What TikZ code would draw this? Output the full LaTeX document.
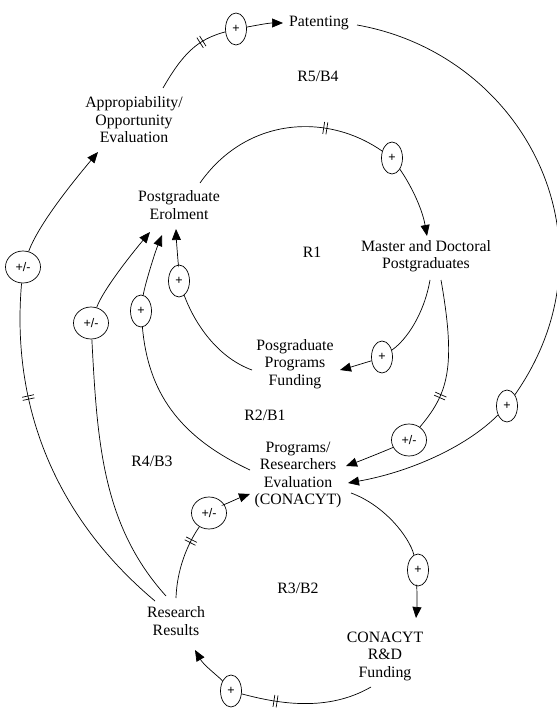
\documentclass[tikz,border=0pt]{standalone}
\usepackage{fontspec}
\setmainfont{Liberation Serif}
\newfontfamily\varfont{Liberation Serif}
\newfontfamily\polfont{Liberation Sans}
\usetikzlibrary{shapes.geometric,arrows.meta,decorations.markings}

\tikzset{
  var/.style={align=center, inner sep=2pt, font=\varfont\fontsize{15.8}{17.5}\selectfont},
  pol/.style={ellipse, draw, fill=white, inner sep=0pt, minimum width=21pt,
    minimum height=32pt, line width=0.7pt, font=\polfont\fontsize{12.5}{12.5}\selectfont},
  polw/.style={pol, minimum width=35pt},
  lnk/.style={line width=0.7pt},
  arr/.style={lnk, -{Triangle[length=11pt,width=9pt]}},
  delay/.style={postaction={decorate, decoration={markings,
    mark=at position #1 with {\draw[line width=0.7pt] (-1.6pt,-6pt) -- (-1.6pt,6pt) (1.6pt,-6pt) -- (1.6pt,6pt);}}}}
}

\begin{document}
\begin{tikzpicture}[x=1pt,y=1pt]
  \useasboundingbox (0,0) rectangle (556,-711);
  % variables
  \node[var] (pat) at (319,-23) {Patenting};
  \node[var] (appr) at (134,-120) {Appropiability/\\Opportunity\\Evaluation};
  \node[var] (post) at (179,-205) {Postgraduate\\Erolment};
  \node[var] (mast) at (426,-256) {Master and Doctoral\\Postgraduates};
  \node[var] (fund) at (295,-364) {Posgraduate\\Programs\\Funding};
  \node[var] (eval) at (298,-475) {Programs/\\Researchers\\Evaluation\\(CONACYT)};
  \node[var] (res) at (176,-621) {Research\\Results};
  \node[var] (cfund) at (385,-656) {CONACYT\\R\&D\\Funding};
  % loop names
  \node[var] (l5) at (318,-76) {R5/B4};
  \node[var] (l1) at (312,-252) {R1};
  \node[var] (l2) at (265,-415) {R2/B1};
  \node[var] (l4) at (152,-461) {R4/B3};
  \node[var] (l3) at (298,-588) {R3/B2};
  % polarities
  \node[pol] (p1) at (236,-29) {+};
  \node[pol] (p2) at (507,-406) {+};
  \node[pol] (p3) at (392,-158) {+};
  \node[pol] (p4) at (382,-357) {+};
  \node[polw] (p5) at (409,-440) {+/-};
  \node[pol] (p6) at (179,-281) {+};
  \node[pol] (p7) at (141,-311) {+};
  \node[polw] (p8) at (91,-323) {+/-};
  \node[polw] (p9) at (23,-267) {+/-};
  \node[polw] (p10) at (209,-513) {+/-};
  \node[pol] (p11) at (418,-570) {+};
  \node[pol] (p12) at (231,-691) {+};
  % links
  \draw[lnk,delay=0.7] ([shift={(29,32)}]appr.center) .. controls +(60:40) and +(195:40) .. (p1);
  \draw[arr] (p1) .. controls +(10:15) and +(180:15) .. ([shift={(-36,0)}]pat.center);
  \draw[lnk] ([shift={(38,-2)}]pat.center) .. controls +(-10:170) and +(55:200) .. (p2);
  \draw[arr] (p2) .. controls +(-135:60) and +(10:60) .. ([shift={(50,-8)}]eval.center);
  \draw[lnk,delay=0.7] ([shift={(21,22)}]post.center) .. controls +(55:80) and +(145:80) .. (p3);
  \draw[arr] (p3) .. controls +(-55:30) and +(100:30) .. ([shift={(1,20)}]mast.center);
  \draw[lnk] ([shift={(4,-24)}]mast.center) .. controls +(-100:35) and +(35:30) .. (p4);
  \draw[arr] (p4) .. controls +(-160:10) and +(15:10) .. ([shift={(45,-6)}]fund.center);
  \draw[lnk,delay=0.76] ([shift={(15,-24)}]mast.center) .. controls +(-80:90) and +(50:60) .. (p5);
  \draw[arr] (p5) .. controls +(-155:20) and +(20:20) .. ([shift={(48,9)}]eval.center);
  \draw[lnk] ([shift={(-43,-6)}]fund.center) .. controls +(160:40) and +(-70:40) .. (p6);
  \draw[arr] (p6) .. controls +(92:12) and +(-88:12) .. ([shift={(-3,-24)}]post.center);
  \draw[lnk] ([shift={(-48,5)}]eval.center) .. controls +(155:80) and +(-85:80) .. (p7);
  \draw[arr] (p7) .. controls +(82:25) and +(-112:20) .. ([shift={(-17,-30)}]post.center);
  \draw[lnk] ([shift={(-10,25)}]res.center) .. controls +(132:95) and +(-87:120) .. (p8);
  \draw[arr] (p8) .. controls +(70:35) and +(-130:30) .. ([shift={(-29,-27)}]post.center);
  \draw[lnk,delay=0.68] ([shift={(-21,20)}]res.center) .. controls +(140:130) and +(-95:140) .. (p9);
  \draw[arr] (p9) .. controls +(70:45) and +(-130:40) .. ([shift={(-36,-32)}]appr.center);
  \draw[lnk,delay=0.78] ([shift={(0,23)}]res.center) .. controls +(88:35) and +(-125:30) .. (p10);
  \draw[arr] (p10) .. controls +(30:12) and +(-160:12) .. ([shift={(-48,-19)}]eval.center);
  \draw[lnk] ([shift={(53,-18)}]eval.center) .. controls +(-20:35) and +(105:35) .. (p11);
  \draw[arr] (p11) .. controls +(-95:12) and +(85:12) .. ([shift={(31,38)}]cfund.center);
  \draw[lnk,delay=0.74] ([shift={(-14,-31)}]cfund.center) .. controls +(-150:50) and +(-15:50) .. (p12);
  \draw[arr] (p12) .. controls +(130:18) and +(-60:18) .. ([shift={(19,-29)}]res.center);
\end{tikzpicture}
\end{document}
